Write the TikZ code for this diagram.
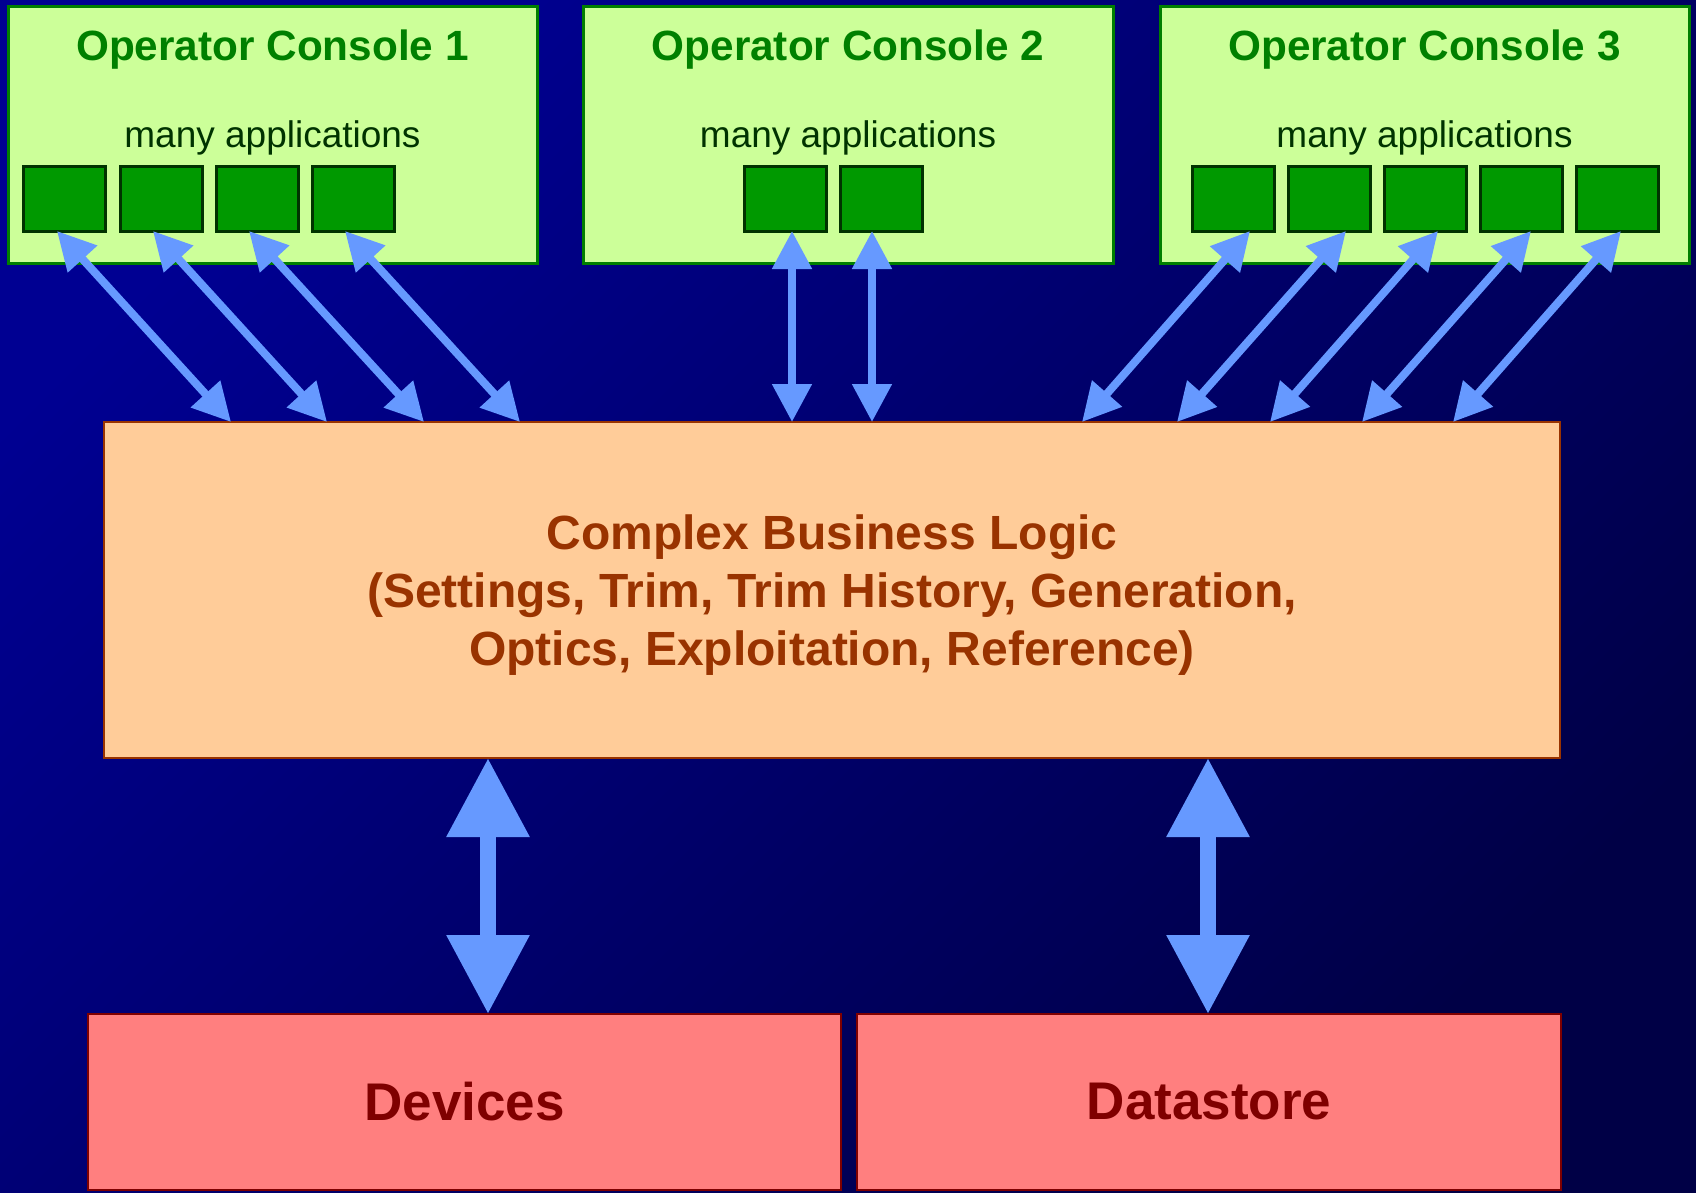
\documentclass[tikz,border=0pt]{standalone}
\usepackage{fontspec}
\setmainfont{Liberation Sans}
\usetikzlibrary{arrows.meta,calc}

\definecolor{bgtop}{RGB}{0,0,146}
\definecolor{bgbot}{RGB}{0,0,70}
\definecolor{consolefill}{HTML}{CCFF99}
\definecolor{consoleline}{HTML}{007F00}
\definecolor{consoletitle}{HTML}{008000}
\definecolor{apptext}{HTML}{003300}
\definecolor{appfill}{HTML}{009900}
\definecolor{appline}{HTML}{003300}
\definecolor{linkblue}{HTML}{6699FF}
\definecolor{logicfill}{HTML}{FFCC99}
\definecolor{logicline}{HTML}{993300}
\definecolor{storefill}{HTML}{FF7F7F}
\definecolor{storeline}{HTML}{7F0000}

\begin{document}
\begin{tikzpicture}[x=1pt,y=-1pt,
  box/.style={anchor=north west, inner sep=0pt, outer sep=0pt},
  console/.style={box, fill=consolefill, draw=consoleline, line width=3pt,
    minimum height=257pt},
  consoletitlestyle/.style={anchor=base, inner sep=0pt, text=consoletitle,
    font=\bfseries\fontsize{42.3}{50}\selectfont},
  appcaption/.style={anchor=base, inner sep=0pt, text=apptext,
    font=\fontsize{37}{44}\selectfont},
  app/.style={box, fill=appfill, draw=appline, line width=3pt,
    minimum width=82pt, minimum height=65pt},
  logicbox/.style={box, fill=logicfill, draw=logicline, line width=2.5pt},
  store/.style={box, fill=storefill, draw=storeline, line width=2.5pt,
    text=storeline, font=\bfseries\fontsize{53}{60}\selectfont},
  thinlink/.style={draw=linkblue, line width=8pt,
    {Triangle[length=38pt,width=38pt]}-{Triangle[length=38pt,width=38pt]}},
  thicklink/.style={draw=linkblue, line width=16pt,
    {Triangle[length=79pt,width=79pt]}-{Triangle[length=79pt,width=79pt]}}
]

% background
\useasboundingbox (0,0) rectangle (1696,1192);
\shade[top color=bgtop, bottom color=bgbot, shading angle=45]
  (0,0) rectangle (1696,1192);

% operator consoles
\node[console, minimum width=529pt] (con1) at (8,6) {};
\node[console, minimum width=530pt] (con2) at (583,6) {};
\node[console, minimum width=529pt] (con3) at (1160,6) {};

\node[consoletitlestyle] (title1) at (272.5,60) {Operator Console 1};
\node[consoletitlestyle] (title2) at (848,60) {Operator Console 2};
\node[consoletitlestyle] (title3) at (1424.5,60) {Operator Console 3};

\node[appcaption] (cap1) at (272.5,147) {many applications};
\node[appcaption] (cap2) at (848,147) {many applications};
\node[appcaption] (cap3) at (1424.5,147) {many applications};

% applications
\node[app] (c1a1) at (23,166) {};
\node[app] (c1a2) at (120,166) {};
\node[app] (c1a3) at (216,166) {};
\node[app] (c1a4) at (312,166) {};

\node[app] (c2a1) at (744,166) {};
\node[app] (c2a2) at (840,166) {};

\node[app] (c3a1) at (1192,166) {};
\node[app] (c3a2) at (1288,166) {};
\node[app] (c3a3) at (1384,166) {};
\node[app] (c3a4) at (1480,166) {};
\node[app] (c3a5) at (1576,166) {};

% business logic
\node[logicbox, minimum width=1456pt, minimum height=336pt] (logic) at (104,422) {};
\node[align=center, inner sep=0pt, text=logicline,
  font=\bfseries\fontsize{48}{58.4}\selectfont] (logictext) at (832,595)
  {Complex Business Logic\\(Settings, Trim, Trim History, Generation,\\Optics, Exploitation, Reference)};

% back ends
\node[store, minimum width=753pt, minimum height=176pt] (devices) at (88,1014) {Devices};
\node[store, minimum width=704pt, minimum height=176pt] (datastore) at (857,1014) {Datastore};

% console links
\draw[thinlink] ($(c1a1.south west)+(34,0)$) -- ($(logic.north west)+(127,0)$);
\draw[thinlink] ($(c1a2.south west)+(33,0)$) -- ($(logic.north west)+(223,0)$);
\draw[thinlink] ($(c1a3.south west)+(33,0)$) -- ($(logic.north west)+(320,0)$);
\draw[thinlink] ($(c1a4.south west)+(33,0)$) -- ($(logic.north west)+(416,0)$);

\draw[thinlink] ($(c2a1.south west)+(48,0)$) -- ($(logic.north west)+(688,0)$);
\draw[thinlink] ($(c2a2.south west)+(32,0)$) -- ($(logic.north west)+(768,0)$);

\draw[thinlink] ($(c3a1.south west)+(58,0)$) -- ($(logic.north west)+(978,0)$);
\draw[thinlink] ($(c3a2.south west)+(58,0)$) -- ($(logic.north west)+(1073,0)$);
\draw[thinlink] ($(c3a3.south west)+(54,0)$) -- ($(logic.north west)+(1166,0)$);
\draw[thinlink] ($(c3a4.south west)+(51,0)$) -- ($(logic.north west)+(1258,0)$);
\draw[thinlink] ($(c3a5.south west)+(45,0)$) -- ($(logic.north west)+(1349,0)$);

% back-end links
\draw[thicklink] ($(logic.south west)+(384,0)$) -- ($(devices.north west)+(400,0)$);
\draw[thicklink] ($(logic.south west)+(1104,0)$) -- ($(datastore.north west)+(351,0)$);
\end{tikzpicture}
\end{document}
